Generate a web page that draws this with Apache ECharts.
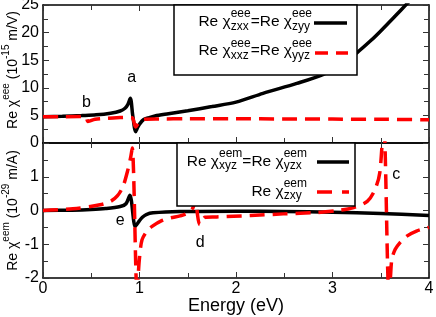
<!DOCTYPE html>
<html><head><meta charset="utf-8">
<script src="https://cdn.jsdelivr.net/npm/echarts/dist/echarts.min.js"></script>
<style>html,body{margin:0;padding:0;background:#fff}#c{width:436px;height:317px}</style>
</head><body><div id="c"></div>
<script>
const FONT = 'Liberation Sans';

// ---- data (Energy in eV) ----
// top panel: Re chi^eee (1e-15 m/V)
const eeeZxxE = [0, 0.2, 0.4, 0.55, 0.7, 0.8, 0.85, 0.88, 0.905, 0.93, 0.96, 0.98, 1.0, 1.04, 1.1, 1.16, 1.3, 1.5, 1.75, 2.0, 2.28, 2.63, 2.9, 3.1, 3.25, 3.4, 3.5, 3.65, 3.77, 3.9, 4.0];
const eeeZxxV = [4.76, 4.85, 4.98, 5.1, 5.4, 5.8, 6.3, 7.0, 8.1, 5.0, 2.05, 2.8, 3.4, 4.2, 4.6, 4.9, 5.3, 5.85, 6.6, 7.4, 9.0, 10.8, 12.4, 14.3, 16.3, 18.6, 20.3, 23.0, 25.2, 27.6, 29.8];
const eeeXxzE = [0, 0.2, 0.38, 0.44, 0.465, 0.48, 0.54, 0.65, 0.8, 0.9, 0.93, 0.96, 1.0, 1.05, 1.2, 1.5, 2.0, 2.5, 3.0, 3.5, 4.0];
const eeeXxzV = [4.76, 4.76, 4.78, 4.85, 3.9, 3.95, 4.3, 4.45, 4.6, 4.65, 4.5, 2.9, 3.9, 4.3, 4.35, 4.38, 4.38, 4.36, 4.33, 4.3, 4.2];
// bottom panel: Re chi^eem (1e-29 m/A)
const eemXyzE = [0, 0.3, 0.5, 0.65, 0.8, 0.86, 0.9, 0.955, 0.975, 1.0, 1.03, 1.07, 1.14, 1.42, 2.0, 2.5, 3.0, 3.5, 4.0];
const eemXyzV = [0, 0.01, 0.03, 0.06, 0.12, 0.2, 0.45, -0.47, -0.4, -0.3, -0.2, -0.12, -0.07, -0.03, -0.02, -0.03, -0.05, -0.09, -0.15];
const eemZxyE = [0, 0.31, 0.59, 0.7, 0.77, 0.83, 0.88, 0.91, 0.925, 0.975, 0.985, 1.0, 1.026, 1.08, 1.13, 1.23, 1.32, 1.42, 1.5, 1.55, 1.585, 1.6, 1.625, 1.68, 1.8, 2.15, 2.49, 2.84, 3.05, 3.21, 3.36, 3.44, 3.49, 3.53, 3.585, 3.6, 3.615, 3.65, 3.7, 3.77, 3.87, 4.0];
const eemZxyV = [0, 0.05, 0.17, 0.27, 0.43, 0.72, 1.21, 1.6, 1.85, -2.5, -2.0, -1.4, -0.87, -0.6, -0.47, -0.3, -0.22, -0.16, -0.08, 0.06, 0.35, -0.1, -0.42, -0.2, -0.19, -0.15, -0.1, -0.06, 0.0, 0.08, 0.27, 0.62, 1.12, 2.6, -2.5, -2.0, -1.45, -1.15, -0.95, -0.76, -0.61, -0.5];

// tick settings
const energyTicks = {min: 0, max: 4, interval: 1};
const eeeTicks = {min: 0, max: 25, interval: 5};
const eemTicks = {min: -2, max: 2, interval: 1};

// annotations
const noteText = ['a', 'b', 'c', 'd', 'e'];
const noteE = [0.92, 0.45, 3.66, 1.63, 0.8];
const noteV = [11.8, 7.4, 1.07, -0.95, -0.31];
const notePanel = [0, 0, 1, 1, 1];

const chart = echarts.init(document.getElementById('c'), null, {renderer: 'canvas'});

function xAx(grid, pos, labels, extra) {
  return Object.assign({
    type: 'value', gridIndex: grid, position: pos,
    min: energyTicks.min, max: energyTicks.max, interval: energyTicks.interval,
    axisLine: {show: true, onZero: false, lineStyle: {color: '#000', width: 1.5}},
    axisTick: {show: true, inside: true, length: 6, lineStyle: {color: '#333', width: 1}},
    minorTick: {show: true, splitNumber: 2, length: 5, lineStyle: {color: '#333', width: 1}},
    splitLine: {show: false}, minorSplitLine: {show: false},
    axisLabel: {show: labels, color: '#000', fontFamily: FONT, fontSize: 16, margin: 3}
  }, extra || {});
}
function yAx(grid, pos, t, labels, extra) {
  return Object.assign({
    type: 'value', gridIndex: grid, position: pos,
    min: t.min, max: t.max, interval: t.interval,
    axisLine: {show: true, onZero: false, lineStyle: {color: '#000', width: 1.5}},
    axisTick: {show: true, inside: true, length: 6, lineStyle: {color: '#333', width: 1}},
    minorTick: {show: true, splitNumber: 2, length: 5, lineStyle: {color: '#333', width: 1}},
    splitLine: {show: false}, minorSplitLine: {show: false},
    axisLabel: {show: labels, color: '#000', fontFamily: FONT, fontSize: 16, margin: 4}
  }, extra || {});
}
const nameRich = {
  m: {fontFamily: FONT, fontSize: 14, lineHeight: 24, color: '#000'},
  s: {fontFamily: FONT, fontSize: 10, lineHeight: 10, verticalAlign: 'top', color: '#000'}
};

function ser(name, xs, ys, xi, yi, color, dashed) {
  return {
    type: 'line', name: name, xAxisIndex: xi, yAxisIndex: yi,
    data: xs.map((x, i) => [x, ys[i]]),
    showSymbol: false, symbol: 'none', smooth: 0.3, clip: true,
    lineStyle: {color: color, width: 3.5, type: dashed ? [15, 8] : 'solid', cap: 'butt'},
    z: dashed ? 4 : 3, animation: false
  };
}

chart.setOption({
  animation: false,
  backgroundColor: '#fff',
  grid: [
    {left: 43, right: 7, top: 5, height: 138, containLabel: false, outerBoundsMode: 'none'},
    {left: 43, right: 7, top: 143, height: 135, containLabel: false, outerBoundsMode: 'none'}
  ],
  xAxis: [
    xAx(0, 'bottom', false),
    xAx(0, 'top', false),
    xAx(1, 'bottom', true, {name: 'Energy (eV)', nameLocation: 'middle', nameGap: 19, nameMoveOverlap: false,
      nameTextStyle: {fontFamily: FONT, fontSize: 18, color: '#000'}}),
    xAx(1, 'top', false)
  ],
  yAxis: [
    yAx(0, 'left', eeeTicks, true, {
      name: '{m|Re χ}{s|eee}{m| (10}{s|-15}{m| m/V)}', nameLocation: 'middle', nameGap: 18, nameRotate: 90,
      nameMoveOverlap: false, nameTextStyle: {rich: nameRich, padding: [0, 0, 0, 8]}}),
    yAx(0, 'right', eeeTicks, false),
    yAx(1, 'left', eemTicks, true, {
      name: '{m|Re χ}{s|eem}{m| (10}{s|-29}{m| m/A)}', nameLocation: 'middle', nameGap: 18, nameRotate: 90,
      nameMoveOverlap: false, nameTextStyle: {rich: nameRich},
      axisLabel: {show: true, showMaxLabel: false, color: '#000', fontFamily: FONT, fontSize: 16, margin: 4}}),
    yAx(1, 'right', eemTicks, false)
  ],
  series: [
    ser('Re χzxx=Re χzyy', eeeZxxE, eeeZxxV, 0, 0, '#000', false),
    ser('Re χxxz=Re χyyz', eeeXxzE, eeeXxzV, 0, 0, '#ff0000', true),
    ser('Re χxyz=Re χyzx', eemXyzE, eemXyzV, 2, 2, '#000', false),
    ser('Re χzxy', eemZxyE, eemZxyV, 2, 2, '#ff0000', true)
  ]
});

// ---- legends & annotations as graphic text ----
const ctx = document.createElement('canvas').getContext('2d');
function tw(t, s) { ctx.font = s + 'px "' + FONT + '"'; return ctx.measureText(t).width; }
function txt(t, x, base, size) {
  return {type: 'text', z: 101, style: {text: t, x: x, y: base - 0.35 * size,
    font: size + 'px "' + FONT + '"', fill: '#000', textAlign: 'left', textVerticalAlign: 'middle'}};
}
function row(pieces, right, base, main, small) {
  const widths = pieces.map(p => typeof p === 'string' ? tw(p, main) : Math.max(tw(p[0], small), tw(p[1], small)));
  let x = right - widths.reduce((a, b) => a + b, 0);
  const els = [];
  pieces.forEach((p, i) => {
    if (typeof p === 'string') els.push(txt(p, x, base, main));
    else { els.push(txt(p[0], x, base - 9, small)); els.push(txt(p[1], x, base + 3.5, small)); }
    x += widths[i];
  });
  return els;
}
function box(x, y, w, h) {
  return {type: 'rect', z: 100, shape: {x: x, y: y, width: w, height: h},
    style: {fill: '#fff', stroke: '#000', lineWidth: 1.5}};
}
function sample(x1, x2, y, color, dash) {
  return {type: 'line', z: 101, shape: {x1: x1, y1: y, x2: x2, y2: y},
    style: {stroke: color, lineWidth: 3.5, lineDash: dash || null}};
}
const LM = 15.5, LS = 12;
const els = [].concat(
  [box(174, 5, 183, 70)],
  row(['Re χ', ['eee', 'zxx'], '=Re χ', ['eee', 'zyy']], 312, 27, LM, LS),
  row(['Re χ', ['eee', 'xxz'], '=Re χ', ['eee', 'yyz']], 312, 56.5, LM, LS),
  [sample(314, 347, 23, '#000'), sample(315, 348, 53, '#ff0000', [13, 8])],
  [box(177, 143, 178, 63)],
  row(['Re χ', ['eem', 'xyz'], '=Re χ', ['eem', 'yzx']], 307, 166.7, LM, LS),
  row(['Re χ', ['eem', 'zxy']], 307, 196.7, LM, LS),
  [sample(317, 349, 162, '#000'), sample(317, 349, 192, '#ff0000', [15, 10])]
);
noteText.forEach((t, i) => {
  const p = chart.convertToPixel({gridIndex: notePanel[i]}, [noteE[i], noteV[i]]);
  els.push({type: 'text', z: 101, style: {text: t, x: p[0], y: p[1], font: '16px "' + FONT + '"',
    fill: '#000', textAlign: 'center', textVerticalAlign: 'middle'}});
});
chart.setOption({graphic: {elements: els}});
</script></body></html>
